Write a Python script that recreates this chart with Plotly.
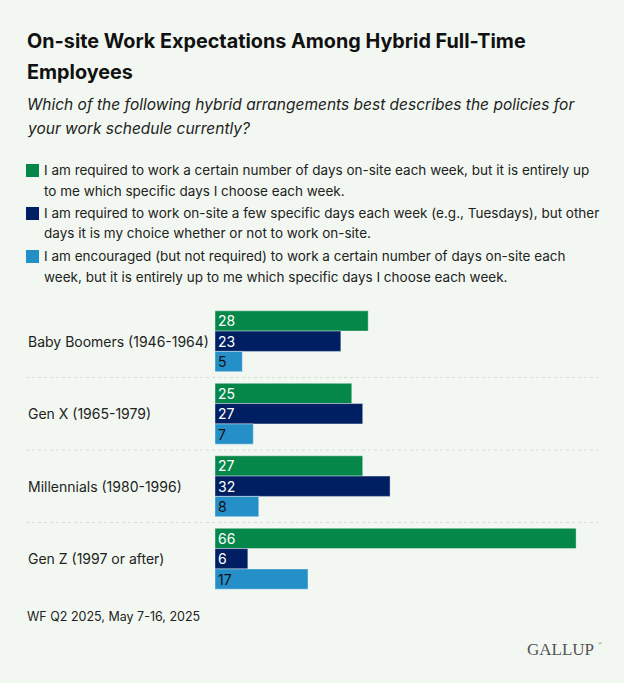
import plotly.graph_objects as go

# --- Datos ---
generaciones = ["Baby Boomers (1946-1964)", "Gen X (1965-1979)",
                "Millennials (1980-1996)", "Gen Z (1997 or after)"]
series = [
    "I am required to work a certain number of days on-site each week, but it is entirely up<br>to me which specific days I choose each week.",
    "I am required to work on-site a few specific days each week (e.g., Tuesdays), but other<br>days it is my choice whether or not to work on-site.",
    "I am encouraged (but not required) to work a certain number of days on-site each<br>week, but it is entirely up to me which specific days I choose each week.",
]
requerido_flexible = [28, 25, 27, 66]
requerido_fijo = [23, 27, 32, 6]
recomendado = [5, 7, 8, 17]
valores = [requerido_flexible, requerido_fijo, recomendado]

titulo = ["On-site Work Expectations Among Hybrid Full-Time", "Employees"]
subtitulo = ["Which of the following hybrid arrangements best describes the policies for",
             "your work schedule currently?"]
fuente = "WF Q2 2025, May 7-16, 2025"

colores = ["#06874A", "#001F63", "#2590C8"]
colores_texto = ["white", "white", "#111111"]
fondo = "#F2F8F1"
FUENTE = "Inter, Roboto, sans-serif"

# --- Geometria (pixeles) ---
W, H = 624, 683
M_L, M_R, M_T, M_B = 215, 26, 305, 88
ALTO = H - M_T - M_B
ANCHO = W - M_L - M_R


def px(x):
    return (x - M_L) / ANCHO


def py(y):
    return (H - M_B - y) / ALTO


fig = go.Figure()

for i, (nombre, vals) in enumerate(zip(series, valores)):
    fig.add_trace(go.Bar(
        y=generaciones,
        x=vals,
        orientation="h",
        name=nombre,
        marker=dict(color=colores[i], line=dict(color="rgba(255,255,255,0.5)", width=0.8)),
        text=vals,
        textposition="inside",
        insidetextanchor="start",
        textangle=0,
        constraintext="none",
        cliponaxis=False,
        textfont=dict(family=FUENTE, size=14, color=colores_texto[i]),
        showlegend=False,
    ))

anotaciones = []
formas = []

# titulo
for j, linea in enumerate(titulo):
    anotaciones.append(dict(x=px(25), y=py(41 + j * 31), xref="paper", yref="paper",
                            text=f"<b>{linea}</b>", showarrow=False, xanchor="left",
                            yanchor="middle", font=dict(family=FUENTE, size=19.8, color="#111111")))
# subtitulo
for j, linea in enumerate(subtitulo):
    anotaciones.append(dict(x=px(25), y=py(104 + j * 24), xref="paper", yref="paper",
                            text=f"<i>{linea}</i>", showarrow=False, xanchor="left",
                            yanchor="middle", font=dict(family=FUENTE, size=15.5, color="#222222")))
# leyenda
for i, nombre in enumerate(series):
    y0 = 170 + i * 43
    for j, linea in enumerate(nombre.split("<br>")):
        anotaciones.append(dict(x=px(42), y=py(y0 + j * 20.5), xref="paper", yref="paper",
                                text=linea, showarrow=False, xanchor="left",
                                yanchor="middle", font=dict(family=FUENTE, size=13.5, color="#222222")))
    formas.append(dict(type="rect", xref="paper", yref="paper",
                       x0=px(26), x1=px(39), y0=py(y0 - 6), y1=py(y0 + 7),
                       fillcolor=colores[i], line=dict(width=0)))

# etiquetas de categoria
for g in generaciones:
    anotaciones.append(dict(x=px(26), y=g, xref="paper", yref="y", text=g,
                            showarrow=False, xanchor="left", yanchor="middle",
                            font=dict(family=FUENTE, size=14, color="#222222")))

# separadores
for k in range(len(generaciones) - 1):
    formas.append(dict(type="line", xref="paper", yref="y",
                       x0=px(26), x1=px(598), y0=k + 0.5, y1=k + 0.5,
                       line=dict(color="#D6DCD6", width=1, dash="dot")))

anotaciones.append(dict(x=px(25), y=py(616), xref="paper", yref="paper", text=fuente,
                        showarrow=False, xanchor="left", yanchor="middle",
                        font=dict(family=FUENTE, size=12.5, color="#222222")))
anotaciones.append(dict(x=px(596), y=py(649), xref="paper", yref="paper",
                        text="GALLUP", showarrow=False, xanchor="right",
                        yanchor="middle",
                        font=dict(family="Liberation Serif, serif", size=17, color="#555555")))
anotaciones.append(dict(x=px(596), y=py(643), xref="paper", yref="paper",
                        text="®", showarrow=False, xanchor="left",
                        yanchor="middle",
                        font=dict(family="Liberation Serif, serif", size=5, color="#555555")))

fig.update_layout(
    width=W, height=H,
    margin=dict(l=M_L, r=M_R, t=M_T, b=M_B),
    paper_bgcolor=fondo, plot_bgcolor=fondo,
    barmode="group", bargap=0.16, bargroupgap=0,
    xaxis=dict(range=[0, 70], visible=False, fixedrange=True),
    yaxis=dict(autorange="reversed", showticklabels=False, showgrid=False,
               zeroline=False, fixedrange=True),
    annotations=anotaciones,
    shapes=formas,
)

fig.write_html("out.html", config={"displayModeBar": False},
               post_script="document.body.style.margin='0';")
